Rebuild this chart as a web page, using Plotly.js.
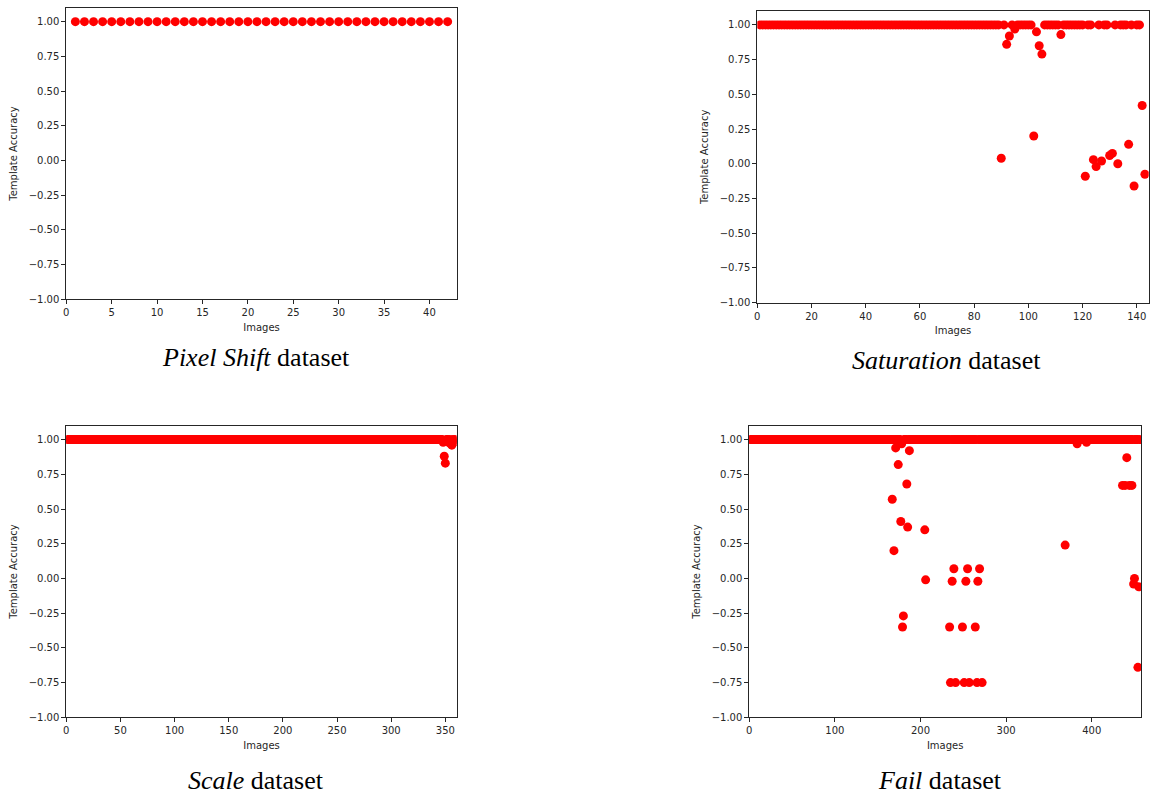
<!DOCTYPE html>
<html>
<head>
<meta charset="utf-8">
<script src="https://cdn.plot.ly/plotly-3.0.1.min.js"></script>
<style>
  html, body { margin: 0; padding: 0; background: #ffffff; }
  #chart { width: 1152px; height: 797px; }
</style>
</head>
<body>
<div id="chart"></div>
<script>
// ---------------- DATA (Template Accuracy per image, images numbered from 1) ----------------
const panelCaptions = ["<i>Pixel Shift</i> dataset", "<i>Saturation</i> dataset", "<i>Scale</i> dataset", "<i>Fail</i> dataset"];
const xAxisTitle = "Images";
const yAxisTitle = "Template Accuracy";
const yTickValues = [-1, -0.75, -0.5, -0.25, 0, 0.25, 0.5, 0.75, 1];

const pixelShiftScores = [
  1,1,1,1,1,1,1,1,1,1,   // 1-10
  1,1,1,1,1,1,1,1,1,1,   // 11-20
  1,1,1,1,1,1,1,1,1,1,   // 21-30
  1,1,1,1,1,1,1,1,1,1,   // 31-40
  1,1                    // 41-42
];

const saturationScores = [
  1,1,1,1,1,1,1,1,1,1,   // 1-10
  1,1,1,1,1,1,1,1,1,1,   // 11-20
  1,1,1,1,1,1,1,1,1,1,   // 21-30
  1,1,1,1,1,1,1,1,1,1,   // 31-40
  1,1,1,1,1,1,1,1,1,1,   // 41-50
  1,1,1,1,1,1,1,1,1,1,   // 51-60
  1,1,1,1,1,1,1,1,1,1,   // 61-70
  1,1,1,1,1,1,1,1,1,1,   // 71-80
  1,1,1,1,1,1,1,1,1,0.04,          // 81-90
  1,0.86,0.92,1,0.97,1,1,1,1,1,    // 91-100
  1,0.2,0.95,0.85,0.79,1,1,1,1,1,  // 101-110
  1,0.93,1,1,1,1,1,1,1,1,          // 111-120
  -0.09,1,1,0.03,-0.02,1,0.02,1,1,0.06,   // 121-130
  0.075,1,0,1,1,1,0.14,1,-0.16,1,         // 131-140
  1,0.42,-0.075                           // 141-143
];

const scaleScores = [
  1,1,1,1,1,1,1,1,1,1,   // 1-10
  1,1,1,1,1,1,1,1,1,1,   // 11-20
  1,1,1,1,1,1,1,1,1,1,   // 21-30
  1,1,1,1,1,1,1,1,1,1,   // 31-40
  1,1,1,1,1,1,1,1,1,1,   // 41-50
  1,1,1,1,1,1,1,1,1,1,   // 51-60
  1,1,1,1,1,1,1,1,1,1,   // 61-70
  1,1,1,1,1,1,1,1,1,1,   // 71-80
  1,1,1,1,1,1,1,1,1,1,   // 81-90
  1,1,1,1,1,1,1,1,1,1,   // 91-100
  1,1,1,1,1,1,1,1,1,1,   // 101-110
  1,1,1,1,1,1,1,1,1,1,   // 111-120
  1,1,1,1,1,1,1,1,1,1,   // 121-130
  1,1,1,1,1,1,1,1,1,1,   // 131-140
  1,1,1,1,1,1,1,1,1,1,   // 141-150
  1,1,1,1,1,1,1,1,1,1,   // 151-160
  1,1,1,1,1,1,1,1,1,1,   // 161-170
  1,1,1,1,1,1,1,1,1,1,   // 171-180
  1,1,1,1,1,1,1,1,1,1,   // 181-190
  1,1,1,1,1,1,1,1,1,1,   // 191-200
  1,1,1,1,1,1,1,1,1,1,   // 201-210
  1,1,1,1,1,1,1,1,1,1,   // 211-220
  1,1,1,1,1,1,1,1,1,1,   // 221-230
  1,1,1,1,1,1,1,1,1,1,   // 231-240
  1,1,1,1,1,1,1,1,1,1,   // 241-250
  1,1,1,1,1,1,1,1,1,1,   // 251-260
  1,1,1,1,1,1,1,1,1,1,   // 261-270
  1,1,1,1,1,1,1,1,1,1,   // 271-280
  1,1,1,1,1,1,1,1,1,1,   // 281-290
  1,1,1,1,1,1,1,1,1,1,   // 291-300
  1,1,1,1,1,1,1,1,1,1,   // 301-310
  1,1,1,1,1,1,1,1,1,1,   // 311-320
  1,1,1,1,1,1,1,1,1,1,   // 321-330
  1,1,1,1,1,1,1,1,1,1,   // 331-340
  1,1,1,1,1,1,1,0.98,0.88,0.83,       // 341-350
  1,1,0.98,1,0.97,0.96,1,0.98,1       // 351-359
];

const failScores = [
  1,1,1,1,1,1,1,1,1,1,   // 1-10
  1,1,1,1,1,1,1,1,1,1,   // 11-20
  1,1,1,1,1,1,1,1,1,1,   // 21-30
  1,1,1,1,1,1,1,1,1,1,   // 31-40
  1,1,1,1,1,1,1,1,1,1,   // 41-50
  1,1,1,1,1,1,1,1,1,1,   // 51-60
  1,1,1,1,1,1,1,1,1,1,   // 61-70
  1,1,1,1,1,1,1,1,1,1,   // 71-80
  1,1,1,1,1,1,1,1,1,1,   // 81-90
  1,1,1,1,1,1,1,1,1,1,   // 91-100
  1,1,1,1,1,1,1,1,1,1,   // 101-110
  1,1,1,1,1,1,1,1,1,1,   // 111-120
  1,1,1,1,1,1,1,1,1,1,   // 121-130
  1,1,1,1,1,1,1,1,1,1,   // 131-140
  1,1,1,1,1,1,1,1,1,1,   // 141-150
  1,1,1,1,1,1,1,1,1,1,   // 151-160
  1,1,1,1,1,1,0.57,1,0.2,1,                  // 161-170
  0.94,1,1,0.82,1,1,0.41,0.97,-0.35,-0.27,   // 171-180
  1,1,1,0.68,0.37,1,0.92,1,1,1,              // 181-190
  1,1,1,1,1,1,1,1,1,1,                       // 191-200
  1,1,1,1,0.35,-0.01,1,1,1,1,                // 201-210
  1,1,1,1,1,1,1,1,1,1,                       // 211-220
  1,1,1,1,1,1,1,1,1,1,                       // 221-230
  1,1,1,-0.35,-0.75,1,-0.02,1,0.07,1,        // 231-240
  -0.75,1,1,1,1,1,1,1,-0.35,1,               // 241-250
  -0.75,1,-0.02,1,0.07,1,-0.75,1,1,1,        // 251-260
  1,1,1,-0.35,1,-0.75,-0.02,1,0.07,1,        // 261-270
  1,-0.75,1,1,1,1,1,1,1,1,                   // 271-280
  1,1,1,1,1,1,1,1,1,1,   // 281-290
  1,1,1,1,1,1,1,1,1,1,   // 291-300
  1,1,1,1,1,1,1,1,1,1,   // 301-310
  1,1,1,1,1,1,1,1,1,1,   // 311-320
  1,1,1,1,1,1,1,1,1,1,   // 321-330
  1,1,1,1,1,1,1,1,1,1,   // 331-340
  1,1,1,1,1,1,1,1,1,1,   // 341-350
  1,1,1,1,1,1,1,1,1,1,   // 351-360
  1,1,1,1,1,1,1,1,0.24,1,          // 361-370
  1,1,1,1,1,1,1,1,1,1,             // 371-380
  1,1,0.97,1,1,1,1,1,1,1,          // 381-390
  1,1,1,0.98,1,1,1,1,1,1,          // 391-400
  1,1,1,1,1,1,1,1,1,1,   // 401-410
  1,1,1,1,1,1,1,1,1,1,   // 411-420
  1,1,1,1,1,1,1,1,1,1,   // 421-430
  1,1,1,1,1,0.67,1,1,0.67,1,               // 431-440
  0.87,1,1,0.67,1,1,0.67,1,-0.04,0,        // 441-450
  1,1,1,-0.64,-0.06,1                      // 451-456
];

// ---------------- DRAWING ----------------
const W = 1152, H = 797;
const fx = px => px / W;
const fy = py => 1 - py / H;

const panels = [
  {scores: pixelShiftScores, xr: [0, 43],    dtick: 5,   box: [66.3, 456.7, 7.8, 299.3],   cap: [256, 357]},
  {scores: saturationScores, xr: [0, 144.4], dtick: 20,  box: [757.3, 1148.7, 11, 302.7],  cap: [946, 360]},
  {scores: scaleScores,      xr: [0, 360.5], dtick: 50,  box: [66.3, 456.7, 425.7, 717.3], cap: [256, 780]},
  {scores: failScores,       xr: [0, 457.6], dtick: 100, box: [749.3, 1141, 425.7, 717.3], cap: [940, 780]}
];

const axisColor = '#262626';
const traces = [];
const layout = {
  width: W, height: H,
  margin: {l: 0, r: 0, t: 0, b: 0},
  paper_bgcolor: '#ffffff', plot_bgcolor: '#ffffff',
  showlegend: false,
  font: {family: 'DejaVu Sans, sans-serif', size: 10, color: axisColor},
  annotations: []
};

panels.forEach((p, i) => {
  const n = i === 0 ? '' : String(i + 1);
  const xs = p.scores.map((_, k) => k + 1);
  traces.push({
    type: 'scatter', mode: 'markers',
    x: xs, y: p.scores,
    xaxis: 'x' + n, yaxis: 'y' + n,
    marker: {color: '#ff0000', size: 9, line: {width: 0}},
    cliponaxis: true, hoverinfo: 'x+y'
  });
  const [x0, x1, y0, y1] = p.box;
  layout['xaxis' + n] = {
    domain: [fx(x0), fx(x1)], anchor: 'y' + n,
    range: p.xr, tick0: 0, dtick: p.dtick,
    showline: true, mirror: true, linecolor: axisColor, linewidth: 1,
    ticks: 'outside', ticklen: 4, tickwidth: 1, tickcolor: axisColor,
    showgrid: false, zeroline: false, automargin: false,
    tickfont: {size: 10, color: axisColor},
    title: {text: xAxisTitle, font: {size: 10, color: axisColor}, standoff: 6}
  };
  layout['yaxis' + n] = {
    domain: [fy(y1), fy(y0)], anchor: 'x' + n,
    range: [-1, 1.1], tickmode: 'array', tickvals: yTickValues,
    ticktext: yTickValues.map(v => (v < 0 ? '\u2212' : '') + Math.abs(v).toFixed(2)),
    showline: true, mirror: true, linecolor: axisColor, linewidth: 1,
    ticks: 'outside', ticklen: 4, tickwidth: 1, tickcolor: axisColor,
    showgrid: false, zeroline: false, automargin: false,
    tickfont: {size: 10, color: axisColor},
    title: {text: yAxisTitle, font: {size: 10, color: axisColor}, standoff: 9}
  };
  layout.annotations.push({
    xref: 'paper', yref: 'paper', x: fx(p.cap[0]), y: fy(p.cap[1]),
    xanchor: 'center', yanchor: 'middle', showarrow: false,
    text: panelCaptions[i],
    font: {family: 'Liberation Serif, Times New Roman, serif', size: 26, color: '#000000'}
  });
});

Plotly.newPlot('chart', traces, layout, {displayModeBar: false, staticPlot: true});
</script>
</body>
</html>
